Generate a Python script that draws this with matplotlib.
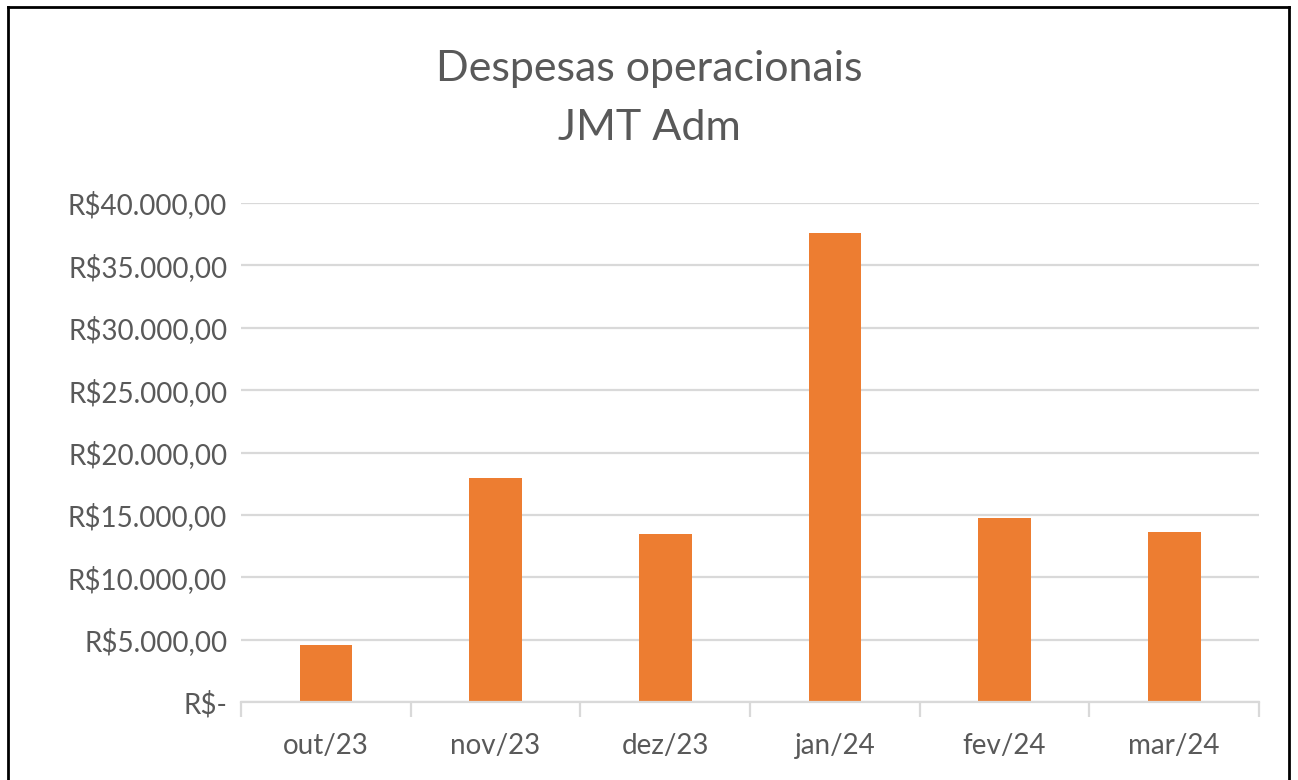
import matplotlib.pyplot as plt
from matplotlib.ticker import FuncFormatter, FixedLocator
from matplotlib.lines import Line2D

# Data
meses = ["out/23", "nov/23", "dez/23", "jan/24", "fev/24", "mar/24"]
despesas = [4570, 17950, 13470, 37600, 14750, 13630]
y_ticks = [0, 5000, 10000, 15000, 20000, 25000, 30000, 35000, 40000]

plt.rcParams['font.family'] = ['Lato', 'DejaVu Sans']
cinza = '#595959'
grade = '#d9d9d9'

fig = plt.figure(figsize=(12.98, 7.8), dpi=100)
ax = fig.add_axes([0.1857, 0.1, 0.970 - 0.1857, 0.7397 - 0.1])

x = range(len(meses))
ax.bar(x, despesas, width=0.31, color='#ED7D31', zorder=3)

ax.set_xlim(-0.5, len(meses) - 0.5)
ax.set_ylim(0, 40000)
ax.set_yticks(y_ticks)


def brl(v, pos):
    if v == 0:
        return "R$-"
    s = f"{v:,.2f}".replace(",", "X").replace(".", ",").replace("X", ".")
    return "R$" + s


ax.yaxis.set_major_formatter(FuncFormatter(brl))
ax.grid(axis='y', color=grade, linewidth=1.6, zorder=0)
ax.set_axisbelow(True)

ax.set_xticks(list(x))
ax.set_xticklabels(meses)
ax.xaxis.set_minor_locator(FixedLocator([i - 0.5 for i in range(len(meses) + 1)]))
ax.tick_params(axis='x', which='major', length=0, pad=22, labelsize=20, labelcolor=cinza)
ax.tick_params(axis='x', which='minor', length=11, width=1.6, color=grade)
ax.tick_params(axis='y', length=0, pad=10, labelsize=20, labelcolor=cinza)

for side in ['top', 'right', 'left']:
    ax.spines[side].set_visible(False)
ax.spines['bottom'].set_color(grade)
ax.spines['bottom'].set_linewidth(1.6)
ax.spines['bottom'].set_zorder(4)

fig.text(0.5, 0.912, "Despesas operacionais", ha='center', va='center',
         fontsize=31, color=cinza)
fig.text(0.5, 0.836, "JMT Adm", ha='center', va='center',
         fontsize=31, color=cinza)

# moldura do gráfico (a borda inferior fica fora da imagem)
bx0, bx1, by1 = 8 / 1298, 1 - 9 / 1298, 1 - 7 / 780
for xs, ys in [([bx0, bx0], [0, by1]), ([bx1, bx1], [0, by1]), ([bx0, bx1], [by1, by1])]:
    fig.add_artist(Line2D(xs, ys, color='black', linewidth=2))

fig.savefig("out.png", dpi=100, facecolor='white')
